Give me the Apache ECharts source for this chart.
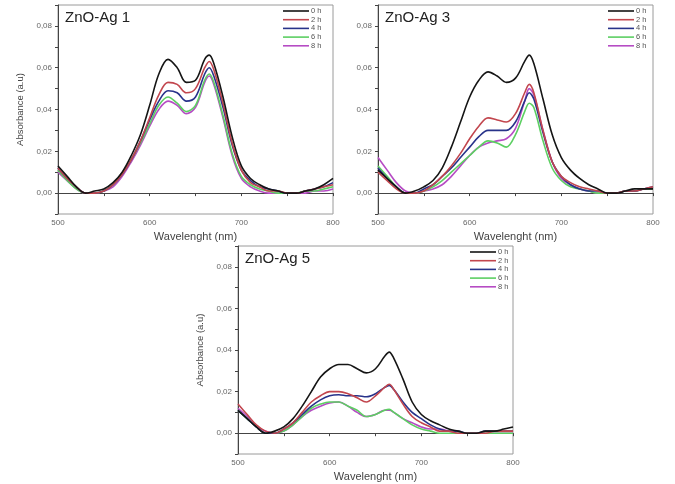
<!DOCTYPE html>
<html>
<head>
<meta charset="utf-8">
<script src="https://cdn.jsdelivr.net/npm/echarts@6/dist/echarts.min.js"></script>
<style>
  html, body { margin: 0; padding: 0; background: #fff; }
  #chart { width: 675px; height: 484px; }
</style>
</head>
<body>
<div id="chart"></div>
<script>
// wavelengths (nm), shared by every curve
const wavelengths = [500, 510, 520, 530, 540, 550, 560, 570, 580, 590, 600, 610, 620, 630, 640, 650,
                     660, 665, 670, 680, 690, 700, 710, 720, 730, 740, 750, 760, 770, 780, 790, 800];
const hours = ['0 h', '2 h', '4 h', '6 h', '8 h'];
const panelTitles = ['ZnO-Ag 1', 'ZnO-Ag 3', 'ZnO-Ag 5'];
const xTicks = [500, 600, 700, 800];
const yTicks = [0, 0.02, 0.04, 0.06, 0.08];

// ZnO-Ag 1
const ag1_0h = [.013, .008, .003, .000, .001, .002, .005, .010, .018, .028, .042, .057, .064, .060, .053, .054, .064, .066, .062, .046, .027, .013, .007, .004, .002, .001, .000, .000, .001, .002, .004, .007];
const ag1_2h = [.012, .007, .003, .000, .000, .001, .004, .009, .016, .025, .036, .047, .053, .052, .048, .050, .060, .063, .059, .043, .024, .011, .005, .003, .001, .001, .000, .000, .001, .002, .003, .004];
const ag1_4h = [.012, .007, .003, .000, .000, .001, .004, .009, .016, .025, .035, .044, .049, .048, .044, .046, .057, .060, .056, .041, .023, .011, .006, .003, .002, .001, .000, .000, .001, .002, .003, .005];
const ag1_6h = [.011, .006, .002, .000, .000, .001, .004, .009, .016, .024, .033, .042, .046, .043, .039, .042, .054, .057, .053, .037, .019, .008, .004, .002, .001, .000, .000, .000, .001, .001, .002, .003];
const ag1_8h = [.010, .006, .002, .000, .000, .001, .003, .008, .015, .023, .032, .040, .044, .042, .038, .041, .053, .056, .052, .036, .018, .007, .003, .001, .000, .000, .000, .000, .000, .001, .001, .002];

// ZnO-Ag 3
const ag3_0h = [.011, .007, .003, .000, .001, .003, .006, .012, .022, .034, .046, .054, .058, .056, .053, .055, .063, .066, .062, .045, .028, .017, .011, .007, .004, .002, .000, .000, .001, .002, .002, .002];
const ag3_2h = [.010, .006, .002, .000, .000, .001, .004, .008, .013, .019, .026, .032, .036, .035, .034, .038, .048, .052, .048, .030, .015, .008, .005, .003, .002, .001, .000, .000, .001, .001, .002, .003];
const ag3_4h = [.012, .007, .003, .000, .000, .002, .004, .008, .012, .017, .022, .027, .030, .030, .030, .034, .044, .048, .045, .029, .015, .008, .004, .002, .001, .001, .000, .000, .001, .001, .002, .003];
const ag3_6h = [.013, .008, .003, .000, .000, .001, .003, .006, .010, .014, .018, .022, .025, .024, .022, .028, .039, .043, .041, .025, .012, .006, .003, .002, .001, .000, .000, .000, .001, .001, .002, .002];
const ag3_8h = [.017, .011, .005, .001, .000, .001, .002, .004, .008, .013, .018, .022, .024, .025, .026, .031, .044, .050, .047, .030, .015, .007, .004, .002, .001, .000, .000, .000, .001, .001, .002, .002];

// ZnO-Ag 5
const ag5_0h = [.011, .007, .003, .000, .001, .003, .007, .013, .020, .027, .031, .033, .033, .031, .029, .031, .037, .039, .036, .026, .015, .009, .006, .004, .002, .001, .000, .000, .001, .001, .002, .003];
const ag5_2h = [.014, .009, .004, .001, .000, .002, .005, .010, .015, .018, .020, .020, .019, .017, .015, .018, .022, .0235, .021, .014, .008, .005, .003, .001, .001, .000, .000, .000, .000, .001, .001, .001];
const ag5_4h = [.011, .007, .003, .000, .000, .002, .005, .009, .013, .016, .018, .0185, .018, .018, .0175, .019, .022, .023, .021, .015, .010, .007, .004, .002, .001, .001, .000, .000, .001, .001, .001, .001];
const ag5_6h = [.011, .007, .003, .000, .000, .001, .004, .008, .012, .014, .015, .015, .013, .011, .008, .009, .011, .0115, .010, .007, .004, .002, .001, .000, .000, .000, .000, .000, .000, .000, .000, .000];
const ag5_8h = [.012, .008, .003, .001, .000, .001, .004, .008, .011, .013, .0145, .015, .013, .010, .008, .009, .011, .011, .010, .007, .005, .003, .002, .002, .001, .000, .000, .000, .000, .000, .000, .000];

const panelData = [
    [ag1_0h, ag1_2h, ag1_4h, ag1_6h, ag1_8h],
    [ag3_0h, ag3_2h, ag3_4h, ag3_6h, ag3_8h],
    [ag5_0h, ag5_2h, ag5_4h, ag5_6h, ag5_8h]
];

const colors = ['#151515', '#c2464e', '#28338a', '#5ccf62', '#b64cc4'];

// grid boxes in px
const boxes = [
    { left: 58, top: 5, width: 275, height: 209, legendLeft: 283, legendTop: 7, yName: true },
    { left: 378, top: 5, width: 275, height: 209, legendLeft: 608, legendTop: 7, yName: false },
    { left: 238, top: 246, width: 275, height: 208, legendLeft: 470, legendTop: 248, yName: true }
];

const chart = echarts.init(document.getElementById('chart'));

const grid = [], xAxis = [], yAxis = [], series = [], title = [], legend = [];

boxes.forEach((b, p) => {
    grid.push({
        left: b.left, top: b.top, width: b.width, height: b.height,
        show: true, borderColor: '#9a9a9a', borderWidth: 1, backgroundColor: 'transparent'
    });
    xAxis.push({
        type: 'value', gridIndex: p, min: 500, max: 800, interval: 50,
        name: 'Wavelenght (nm)', nameLocation: 'middle', nameGap: 17,
        nameTextStyle: { fontSize: 11, color: '#444', fontFamily: 'Liberation Sans' },
        axisLine: { lineStyle: { color: '#444', width: 1 } },
        axisTick: { length: 3, lineStyle: { color: '#444' } },
        axisLabel: {
            fontSize: 8, color: '#666', margin: 5, fontFamily: 'Liberation Sans',
            formatter: v => xTicks.includes(v) ? String(v) : ''
        },
        splitLine: { show: false }
    });
    yAxis.push({
        type: 'value', gridIndex: p, min: -0.01, max: 0.09, interval: 0.01,
        name: b.yName ? 'Absorbance (a.u)' : '', nameLocation: 'middle', nameGap: 33,
        nameTextStyle: { fontSize: 9.5, color: '#444', fontFamily: 'Liberation Sans' },
        axisLine: { show: true, lineStyle: { color: '#444', width: 1 } },
        axisTick: { length: 3, lineStyle: { color: '#444' } },
        axisLabel: {
            fontSize: 8, color: '#666', margin: 6, fontFamily: 'Liberation Sans',
            formatter: v => {
                const hit = yTicks.find(t => Math.abs(t - v) < 1e-6);
                return hit === undefined ? '' : hit.toFixed(2).replace('.', ',');
            }
        },
        splitLine: { show: false }
    });
    title.push({
        text: panelTitles[p], left: b.left + 7, top: b.top + 5, padding: 0,
        textStyle: { fontSize: 15, fontWeight: 'normal', color: '#222', fontFamily: 'Liberation Sans' }
    });
    legend.push({
        data: hours, orient: 'vertical', left: b.legendLeft, top: b.legendTop, padding: 0,
        icon: 'rect', itemWidth: 26, itemHeight: 1.6, itemGap: 0.7,
        textStyle: { fontSize: 7.5, color: '#555', lineHeight: 8, padding: [0, 0, 0, -3], fontFamily: 'Liberation Sans' },
        selectedMode: false
    });
    panelData[p].forEach((vals, i) => {
        series.push({
            type: 'line', name: hours[i], xAxisIndex: p, yAxisIndex: p,
            data: wavelengths.map((w, k) => [w, vals[k]]),
            smooth: 0.35, showSymbol: false,
            lineStyle: { color: colors[i], width: 1.6 },
            itemStyle: { color: colors[i] },
            z: 10 - i
        });
    });
});

chart.setOption({
    animation: false,
    backgroundColor: '#fff',
    title, legend, grid, xAxis, yAxis, series
});
</script>
</body>
</html>
